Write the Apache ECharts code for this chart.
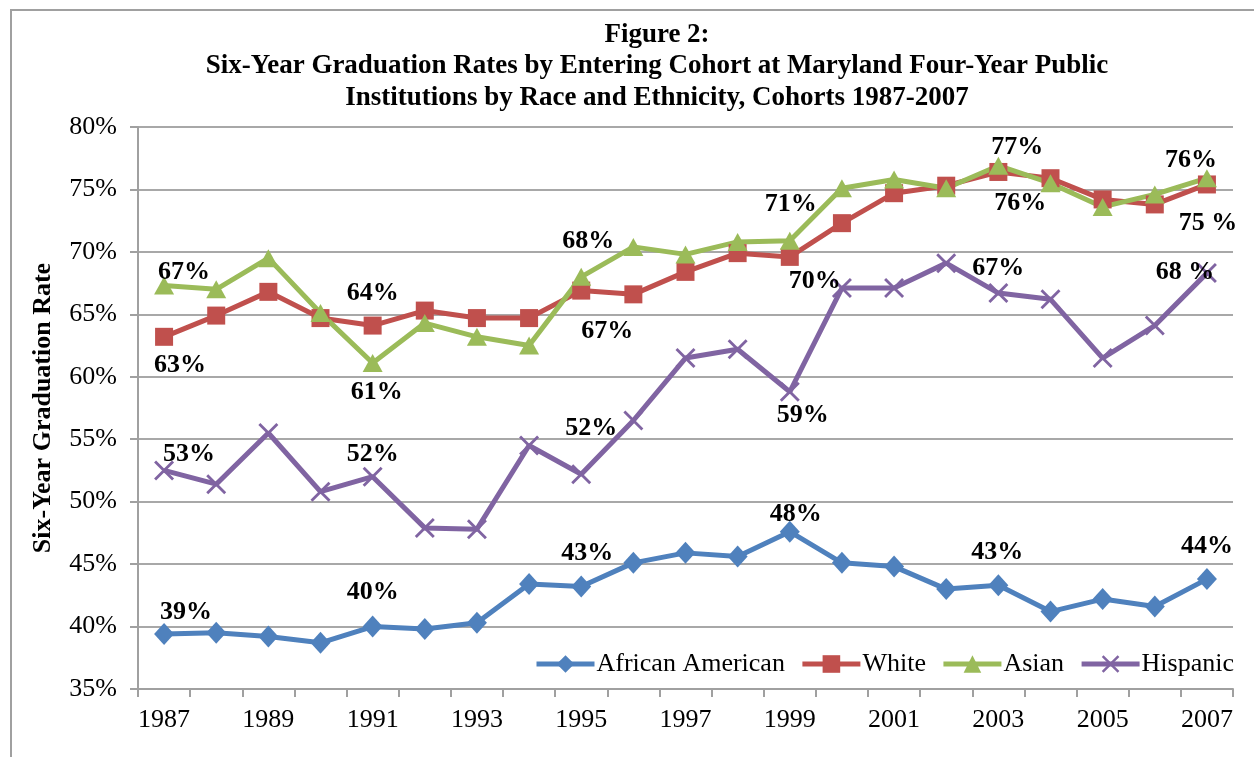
<!DOCTYPE html>
<html>
<head>
<meta charset="utf-8">
<script src="https://cdn.jsdelivr.net/npm/echarts@6/dist/echarts.min.js"></script>
<style>
html,body{margin:0;padding:0;background:#fff;}
#chart{width:1254px;height:757px;}
</style>
</head>
<body>
<div id="chart"></div>
<script>
// ---- data ----
const years = ['1987','1988','1989','1990','1991','1992','1993','1994','1995','1996','1997','1998','1999','2000','2001','2002','2003','2004','2005','2006','2007'];
const africanAmerican = [39.4,39.5,39.2,38.7,40.0,39.8,40.3,43.4,43.2,45.1,45.9,45.6,47.6,45.1,44.8,43.0,43.3,41.2,42.2,41.6,43.8];
const white = [63.2,64.9,66.8,64.7,64.1,65.3,64.7,64.7,66.9,66.6,68.4,69.9,69.6,72.3,74.7,75.3,76.4,75.9,74.2,73.8,75.4];
const asian = [67.3,67.0,69.5,65.1,61.1,64.3,63.2,62.5,68.0,70.4,69.8,70.8,70.9,75.1,75.8,75.1,76.9,75.5,73.6,74.6,75.9];
const hispanic = [52.5,51.4,55.5,50.8,52.0,47.9,47.8,54.5,52.2,56.5,61.5,62.2,58.8,67.1,67.1,69.1,66.7,66.2,61.5,64.1,68.3];
// data label texts (null = no label)
const aaLabels = {0:'39%',4:'40%',8:'43%',12:'48%',16:'43%',20:'44%'};
const whiteLabels = {0:'63%',4:'64%',8:'67%',12:'70%',16:'76%',20:'75 %'};
const asianLabels = {0:'67%',4:'61%',8:'68%',12:'71%',16:'77%',20:'76%'};
const hispLabels = {0:'53%',4:'52%',8:'52%',12:'59%',16:'67%',20:'68 %'};
const yTicks = {min:35, max:80, interval:5};

// ---- label placement (style only) ----
const aaOff = {0:[22,-22],4:[0,-34],8:[6,-33],12:[6,-17],16:[-1,-33],20:[0,-33]};
const whiteOff = {0:[16,28],4:[0,-32],8:[26,41],12:[25,24],16:[22,31],20:[1,39]};
const asianOff = {0:[20,-13],4:[4,29],8:[7,-36],12:[1,-36],16:[19,-18],20:[-16,-18]};
const hispOff = {0:[25,-16],4:[0,-22],8:[10,-46],12:[13,24],16:[0,-25],20:[-22,-1]};

const serif = '"Liberation Serif","Times New Roman",serif';

function buildData(values, labels, offs) {
  return values.map((v, i) => {
    if (labels[i] == null) return v;
    return {
      value: v,
      label: {
        show: true,
        position: 'inside',
        align: 'center',
        verticalAlign: 'middle',
        offset: offs[i],
        formatter: labels[i],
        fontFamily: serif,
        fontWeight: 'bold',
        fontSize: 26,
        color: '#000'
      }
    };
  });
}

const crossPath = 'path://M0,1L1,0L10,9L9,10Z M9,0L10,1L1,10L0,9Z';

function mkSeries(name, values, labels, offs, color, symbol, size) {
  return {
    name: name,
    type: 'line',
    data: buildData(values, labels, offs),
    symbol: symbol,
    symbolSize: size,
    lineStyle: {color: color, width: 5},
    itemStyle: {color: color},
    label: {show: false},
    emphasis: {disabled: true},
    animation: false
  };
}

const chart = echarts.init(document.getElementById('chart'));
chart.setOption({
  backgroundColor: '#fff',
  animation: false,
  title: {
    text: 'Figure 2:\nSix-Year Graduation Rates by Entering Cohort at Maryland Four-Year Public\nInstitutions by Race and Ethnicity, Cohorts 1987-2007',
    left: 652,
    textAlign: 'center',
    top: 14,
    textStyle: {fontFamily: serif, fontWeight: 'bold', fontSize: 27, lineHeight: 31.5, color: '#000'}
  },
  graphic: [{
    type: 'rect',
    shape: {x: 11, y: 10, width: 1400, height: 900},
    style: {fill: 'none', stroke: '#a0a0a0', lineWidth: 2},
    silent: true
  }],
  legend: {
    left: 529,
    top: 646,
    itemWidth: 58,
    itemHeight: 22,
    itemGap: 15,
    lineStyle: {width: 5},
    textStyle: {fontFamily: serif, fontSize: 26, color: '#000', padding: [0,0,0,-3]},
    data: ['African American','White','Asian','Hispanic']
  },
  grid: {left: 138, right: 21, top: 127, bottom: 68, containLabel: false},
  xAxis: {
    type: 'category',
    data: years,
    boundaryGap: true,
    axisLine: {show: true, lineStyle: {color: '#a0a0a0', width: 2}},
    axisTick: {show: true, interval: 0, length: 8, lineStyle: {color: '#a0a0a0', width: 2}},
    axisLabel: {interval: 1, color: '#000', fontFamily: serif, fontSize: 26, margin: 18},
    splitLine: {show: false}
  },
  yAxis: {
    type: 'value',
    min: yTicks.min,
    max: yTicks.max,
    interval: yTicks.interval,
    name: 'Six-Year Graduation Rate',
    nameLocation: 'middle',
    nameGap: 82,
    nameTextStyle: {fontFamily: serif, fontWeight: 'bold', fontSize: 26, color: '#000'},
    axisLine: {show: true, lineStyle: {color: '#a0a0a0', width: 2}},
    axisTick: {show: true, length: 8, lineStyle: {color: '#a0a0a0', width: 2}},
    axisLabel: {formatter: '{value}%', color: '#000', fontFamily: serif, fontSize: 26, margin: 21},
    splitLine: {show: true, lineStyle: {color: '#a8a8a8', width: 2}}
  },
  series: [
    mkSeries('African American', africanAmerican, aaLabels, aaOff, '#4F81BD', 'diamond', [20,22]),
    mkSeries('White', white, whiteLabels, whiteOff, '#C0504D', 'rect', 18),
    mkSeries('Asian', asian, asianLabels, asianOff, '#9BBB59', 'triangle', [20,18]),
    mkSeries('Hispanic', hispanic, hispLabels, hispOff, '#8064A2', crossPath, 20)
  ]
});
</script>
</body>
</html>
